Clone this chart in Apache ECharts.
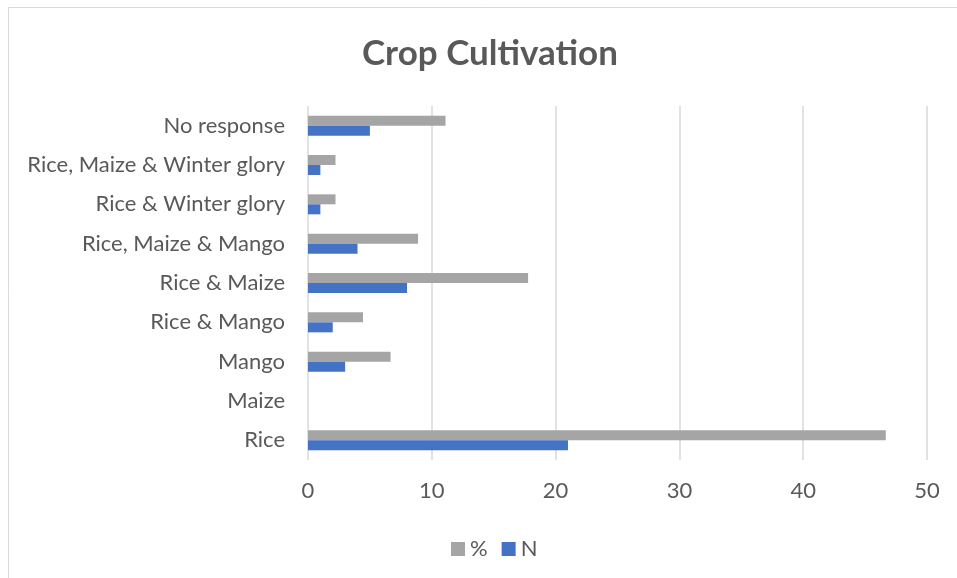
<!DOCTYPE html>
<html><head><meta charset="utf-8">
<script src="https://cdn.jsdelivr.net/npm/echarts@6/dist/echarts.min.js"></script>
<style>html,body{margin:0;padding:0;background:#fff}#c{width:957px;height:578px}</style>
</head><body><div id="c"></div>
<script>
const categories = ["Rice","Maize","Mango","Rice & Mango","Rice & Maize","Rice, Maize & Mango","Rice & Winter glory","Rice, Maize & Winter glory","No response"];
const nValues = [21,0,3,2,8,4,1,1,5];
const pctValues = [46.67,0,6.67,4.44,17.78,8.89,2.22,2.22,11.11];
const xTicks = [0,10,20,30,40,50];
const FONT = 'Lato';
const chart = echarts.init(document.getElementById('c'));
chart.setOption({
  animation:false,
  backgroundColor:'#fff',
  graphic:[{type:'rect',shape:{x:8.5,y:7.5,width:1000,height:700},style:{fill:'none',stroke:'#d9d9d9',lineWidth:1},silent:true,z:-1}],
  title:{text:'Crop Cultivation',left:357,top:31,textStyle:{fontFamily:FONT,fontSize:35,fontWeight:'bold',color:'#595959'}},
  legend:{data:['%','N'],left:446,top:533,itemWidth:14,itemHeight:14,itemGap:14,icon:'rect',textStyle:{fontFamily:FONT,fontSize:22,color:'#595959'}},
  grid:{left:308,right:30,top:106,bottom:118,containLabel:false},
  xAxis:{type:'value',min:xTicks[0],max:xTicks[xTicks.length-1],interval:10,
    axisLine:{show:false},axisTick:{show:false},
    axisLabel:{fontFamily:FONT,fontSize:22,color:'#595959',margin:20},
    splitLine:{show:true,lineStyle:{color:'#d9d9d9',width:1.5}}},
  yAxis:{type:'category',data:categories,
    axisLine:{show:false},axisTick:{show:false},
    axisLabel:{fontFamily:FONT,fontSize:22,color:'#595959',margin:23}},
  series:[
    {name:'%',type:'bar',data:pctValues,barWidth:10,barGap:'0%',itemStyle:{color:'#a5a5a5'}},
    {name:'N',type:'bar',data:nValues,barWidth:10,barGap:'0%',itemStyle:{color:'#4472c4'}}
  ]
});
</script></body></html>
